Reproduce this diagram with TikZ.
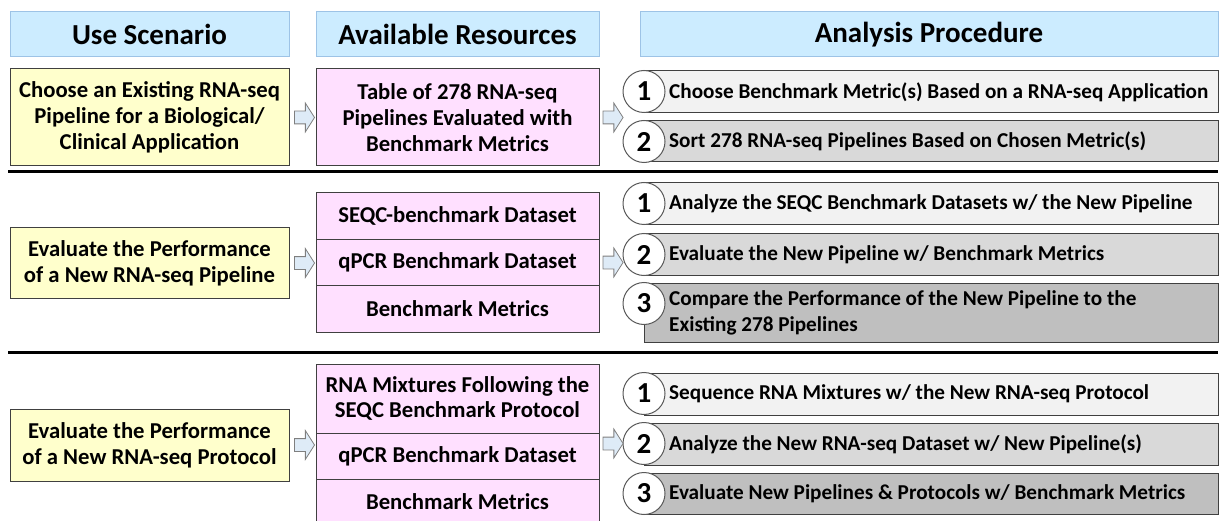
\documentclass[tikz,border=0pt]{standalone}
\usepackage{fontspec}
\setmainfont{Carlito}
\usetikzlibrary{shapes.arrows,calc}
\definecolor{hdrfill}{HTML}{CCECFF}
\definecolor{hdrline}{HTML}{9DC3E6}
\definecolor{scenfill}{HTML}{FFFFCC}
\definecolor{resfill}{HTML}{FFE0FF}
\definecolor{boxline}{HTML}{404040}
\definecolor{arrfill}{HTML}{DEEBF7}
\definecolor{arrline}{HTML}{7F7F7F}
\definecolor{circline}{HTML}{595959}
\definecolor{stepa}{HTML}{F2F2F2}
\definecolor{stepb}{HTML}{D9D9D9}
\definecolor{stepc}{HTML}{BFBFBF}
\newcommand{\bodyfont}{\fontsize{22.7}{25.7}\selectfont\bfseries}
\tikzset{
  hdr/.style={draw=hdrline, fill=hdrfill, line width=1, minimum height=45, inner sep=0, font=\fontsize{29}{32}\selectfont\bfseries},
  scen/.style={draw=boxline, fill=scenfill, line width=1, minimum width=279, inner sep=0, align=center, font=\bodyfont},
  res/.style={draw=boxline, fill=resfill, line width=1, minimum width=283, inner sep=0, align=center, font=\bodyfont},
  stepbox/.style={draw=boxline, line width=1, anchor=west, minimum width=574, inner sep=0},
  steptext/.style={anchor=west, align=left, inner sep=0, font=\fontsize{21.2}{26}\selectfont\bfseries},
  numcirc/.style={circle, draw=circline, fill=white, line width=1, minimum size=42, inner sep=0, font=\fontsize{29}{29}\selectfont\bfseries},
  blockarr/.style={single arrow, draw=arrline, fill=arrfill, line width=0.8, minimum height=20, inner xsep=0, inner ysep=6, single arrow head extend=8, single arrow tip angle=115},
  divider/.style={line width=3}
}
\begin{document}
\begin{tikzpicture}[x=1pt,y=-1pt]
\useasboundingbox (0,0) rectangle (1222,521);
\node[hdr, minimum width=279] (hscen) at (149.5,34.5) {Use Scenario};
\node[hdr, minimum width=283] (hres) at (457.5,34.5) {Available Resources};
\node[hdr, minimum width=578] (hproc) at (929,34.5) {Analysis Procedure};
% pipeline choice
\node[scen, minimum height=97] (scen1) at (149.5,117.5) {Choose an Existing RNA-seq\\Pipeline for a Biological/\\Clinical Application};
\node[res, minimum height=97] (res1) at (457.5,117.5) {Table of 278 RNA-seq\\Pipelines Evaluated with\\Benchmark Metrics};
\foreach \n/\y/\h/\col/\txt in {1/92/42/stepa/{Choose Benchmark Metric(s) Based on a RNA-seq Application},
    2/141.5/41/stepb/{Sort 278 RNA-seq Pipelines Based on Chosen Metric(s)}} {
  \node[stepbox, fill=\col, minimum height=\h] (pa\n) at (644,\y) {};
  \node[steptext] (ta\n) at ([xshift=25]pa\n.west) {\txt};
  \node[numcirc] (ca\n) at ([yshift=-21]pa\n.north west) {\n};
}
\node[blockarr] (aa1) at ($(scen1.east)!0.5!(res1.west)$) {};
\node[blockarr] (aa2) at ($(res1.east)!0.5!(ca1.west |- res1.east)$) {};
\draw[divider] (8,172) -- (1218,172);
% new pipeline
\node[scen, minimum height=70] (scen2) at (149.5,263) {Evaluate the Performance\\of a New RNA-seq Pipeline};
\foreach \n/\y/\txt in {1/216/{SEQC-benchmark Dataset}, 2/262.5/{qPCR Benchmark Dataset}, 3/309/{Benchmark Metrics}}
  \node[res, minimum height=46.5] (rb\n) at (457.5,\y) {\txt};
\foreach \n/\y/\h/\col/\txt in {1/204/42/stepa/{Analyze the SEQC Benchmark Datasets w/ the New Pipeline},
    2/254.5/41/stepb/{Evaluate the New Pipeline w/ Benchmark Metrics},
    3/312.5/59/stepc/{Compare the Performance of the New Pipeline to the\\Existing 278 Pipelines}} {
  \node[stepbox, fill=\col, minimum height=\h] (pb\n) at (644,\y) {};
  \node[steptext] (tb\n) at ([xshift=25]pb\n.west) {\txt};
  \node[numcirc] (cb\n) at ([yshift=-21]pb\n.north west) {\n};
}
\node[blockarr] (ab1) at ($(scen2.east)!0.5!(rb2.west |- scen2.east)$) {};
\node[blockarr] (ab2) at ($(rb2.east)!0.5!(cb2.west |- rb2.east)$) {};
\draw[divider] (8,352) -- (1218,352);
% new protocol
\node[scen, minimum height=72] (scen3) at (149.5,445) {Evaluate the Performance\\of a New RNA-seq Protocol};
\foreach \n/\y/\h/\txt in {1/398.5/69/{RNA Mixtures Following the\\SEQC Benchmark Protocol}, 2/456/46/{qPCR Benchmark Dataset}, 3/502/46/{Benchmark Metrics}}
  \node[res, minimum height=\h] (rc\n) at (457.5,\y) {\txt};
\foreach \n/\y/\h/\col/\txt in {1/394/42/stepa/{Sequence RNA Mixtures w/ the New RNA-seq Protocol},
    2/444/42/stepb/{Analyze the New RNA-seq Dataset w/ New Pipeline(s)},
    3/493.5/41/stepc/{Evaluate New Pipelines \& Protocols w/ Benchmark Metrics}} {
  \node[stepbox, fill=\col, minimum height=\h] (pc\n) at (644,\y) {};
  \node[steptext] (tc\n) at ([xshift=25]pc\n.west) {\txt};
  \node[numcirc] (cc\n) at ([yshift=-21]pc\n.north west) {\n};
}
\node[blockarr] (ac1) at ($(scen3.east)!0.5!(rc2.west |- scen3.east)$) {};
\node[blockarr] (ac2) at ($(rc2.east |- cc2.west)!0.5!(cc2.west)$) {};
\end{tikzpicture}
\end{document}
